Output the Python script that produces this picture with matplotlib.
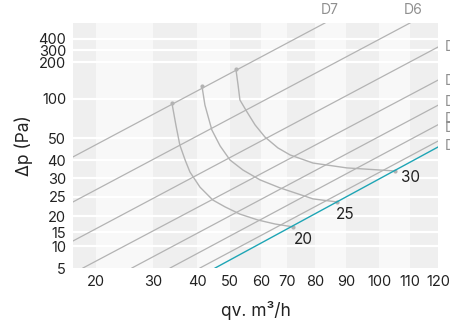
import numpy as np
import matplotlib
matplotlib.use("Agg")
import matplotlib.pyplot as plt
from matplotlib.transforms import blended_transform_factory

plt.rcParams['font.family'] = ['Inter', 'DejaVu Sans']

# ---------------- data ----------------
x_ticks = [20, 30, 40, 50, 60, 70, 80, 90, 100, 110, 120]
y_ticks = [5, 10, 15, 20, 25, 30, 40, 50, 100, 200, 300, 400]

# duct lines (start, end) in (qv, dp)
duct_names = ["D7", "D6", "D5", "D4", "D3", "D2", "D1"]
duct_q0 = [17.0, 17.0, 17.0, 18.3, 26.3, 33.9, 40.9]
duct_p0 = [41.4, 23.7, 11.8, 5.0, 5.0, 5.0, 5.0]
duct_q1 = [83.2, 110.0, 120.0, 120.0, 120.0, 120.0, 120.0]
duct_p1 = [550.0, 550.0, 327.0, 151.0, 92.0, 67.0, 48.6]

# highlighted line
teal_q = [45.5, 120.0]
teal_p = [5.0, 45.9]

# curves
c20_q = [34.3, 35.2, 36.1, 37.3, 38.4, 40.9, 44.8, 48.5, 53.2, 59.0, 65.4, 72.1]
c20_p = [94.9, 66.7, 46.8, 40.0, 33.3, 27.6, 24.2, 22.4, 20.5, 18.75, 17.5, 16.6]
c25_q = [41.5, 42.4, 44.5, 47.0, 50.0, 54.2, 59.7, 67.3, 79.3, 87.1]
c25_p = [135, 92.3, 60.3, 46.4, 40.0, 34.4, 29.5, 27.4, 24.5, 23.7]
c30_q = [51.9, 52.6, 53.2, 55.5, 58.1, 61.5, 66.5, 71.1, 79.3, 90.3, 105.2]
c30_p = [181, 138, 98.7, 83.3, 66.7, 51.3, 45.5, 42.3, 38.3, 35.6, 33.9]
curve_labels = ["20", "25", "30"]
label_q = [75.7, 89.7, 110.0]
label_p = [12.5, 20.5, 30.0]

right_names = ["D5", "D4", "D3", "D2", "D1", "D0"]
right_p = [327, 148.6, 96, 74, 62.8, 46.4]

# ---------------- scale (layout of the original's axes) ----------------
x_anchor_vals = [17, 20, 30, 40, 50, 60, 70, 80, 90, 100, 110, 120]
x_anchor_pos = [0, 23, 80, 124, 157, 188, 214, 242, 273, 306, 337, 365]
y_anchor_vals = [5, 10, 15, 20, 25, 30, 40, 50, 100, 200, 300, 400, 550]
y_anchor_pos = [0, 22, 36, 52, 71, 90, 108, 130, 169, 206, 218, 229, 245]


def make_pw(a, b):
    a = np.asarray(a, float)
    b = np.asarray(b, float)

    def f(v, a=a, b=b):
        v = np.asarray(v, float)
        out = np.interp(v, a, b)
        lo = v < a[0]
        hi = v > a[-1]
        s0 = (b[1] - b[0]) / (a[1] - a[0])
        s1 = (b[-1] - b[-2]) / (a[-1] - a[-2])
        out = np.where(lo, b[0] + (v - a[0]) * s0, out)
        out = np.where(hi, b[-1] + (v - a[-1]) * s1, out)
        return out
    return f


fx, ix = make_pw(x_anchor_vals, x_anchor_pos), make_pw(x_anchor_pos, x_anchor_vals)
fy, iy = make_pw(y_anchor_vals, y_anchor_pos), make_pw(y_anchor_pos, y_anchor_vals)

W, H = 450, 323
fig = plt.figure(figsize=(W / 100, H / 100), dpi=100)
ax = fig.add_axes([73 / W, (H - 268) / H, 365 / W, 245 / H])
ax.set_xscale('function', functions=(fx, ix))
ax.set_yscale('function', functions=(fy, iy))
ax.set_xlim(17, 120)
ax.set_ylim(5, 550)

# background columns
dark, light = "#efefef", "#f8f8f8"
for i in range(len(x_anchor_vals) - 1):
    ax.axvspan(x_anchor_vals[i], x_anchor_vals[i + 1],
               color=dark if i % 2 == 0 else light, lw=0, zorder=0)
for yv in y_ticks[1:]:
    ax.axhline(yv, color="white", lw=1.6, zorder=1)

gray = "#b3b3b3"
for q0, p0, q1, p1 in zip(duct_q0, duct_p0, duct_q1, duct_p1):
    ax.plot([q0, q1], [p0, p1], color=gray, lw=0.9, zorder=2)
ax.plot(teal_q, teal_p, color="#1ea5b5", lw=1.0, zorder=3)

for cq, cp in [(c20_q, c20_p), (c25_q, c25_p), (c30_q, c30_p)]:
    ax.plot(cq, cp, color=gray, lw=1.0, zorder=2, solid_joinstyle='round')
    ax.plot([cq[0], cq[-1]], [cp[0], cp[-1]], 'o', color=gray, ms=2.0, zorder=2)

for t, q, p in zip(curve_labels, label_q, label_p):
    ax.text(q, p, t, fontsize=11, color="#222222", ha="center", va="center")

trx = blended_transform_factory(ax.transData, ax.transAxes)
ax.text(84.8, 1.025, duct_names[0], transform=trx, fontsize=10, color="#8f8f8f",
        ha="center", va="bottom", clip_on=False)
ax.text(111, 1.025, duct_names[1], transform=trx, fontsize=10, color="#8f8f8f",
        ha="center", va="bottom", clip_on=False)
try_ = blended_transform_factory(ax.transAxes, ax.transData)
for n, p in zip(right_names, right_p):
    ax.text(1.019, p, n, transform=try_, fontsize=10, color="#8f8f8f",
            ha="left", va="center", clip_on=False)

ax.set_xticks(x_ticks)
ax.set_xticklabels([str(v) for v in x_ticks])
ax.set_yticks(y_ticks)
ax.set_yticklabels([str(v) for v in y_ticks])
ax.minorticks_off()
ax.tick_params(axis='both', length=0, labelsize=10.5, colors="#222222")
ax.tick_params(axis='x', pad=5)
ax.tick_params(axis='y', pad=5)
for s in ax.spines.values():
    s.set_visible(False)

ax.set_ylabel("Δp (Pa)", fontsize=12.5, color="#222222", labelpad=4)
ax.set_xlabel("qv. m³/h", fontsize=12.5, color="#222222", labelpad=9)

fig.savefig("out.png", dpi=100)
